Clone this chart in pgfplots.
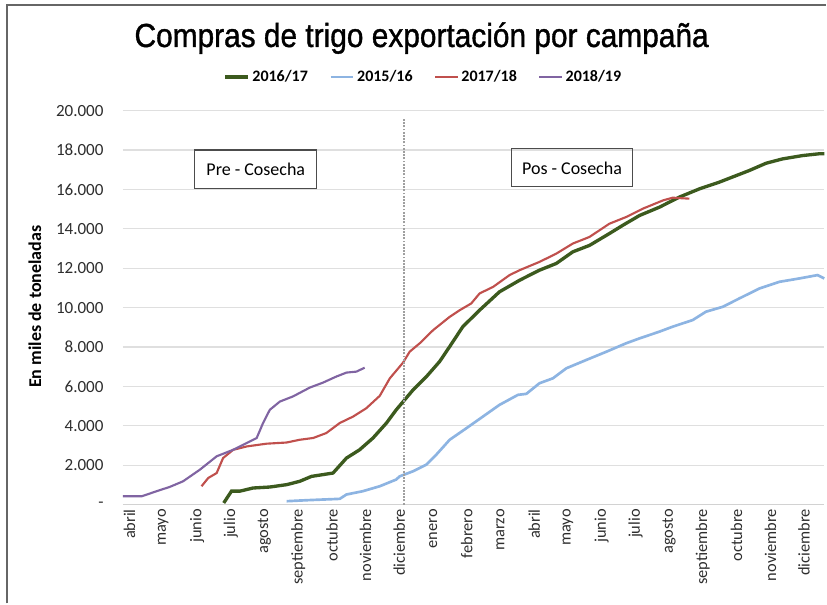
\documentclass[border=0pt]{standalone}
\usepackage{pgfplots}
\pgfplotsset{compat=1.18}
\usepackage{fontspec}
\setmainfont{Carlito}
\newfontfamily\titlefont[FakeBold=1.2]{Liberation Sans}
\definecolor{cgreen}{RGB}{60,90,30}
\definecolor{cblue}{RGB}{141,180,226}
\definecolor{cred}{RGB}{192,80,77}
\definecolor{cpurple}{RGB}{128,100,162}
\definecolor{ctext}{RGB}{45,45,45}
\begin{document}
\begin{tikzpicture}
\begin{axis}[
  at={(92.25pt,74.25pt)}, anchor=south west,
  scale only axis, width=526.5pt, height=295.7pt,
  xmin=-0.119, xmax=20.74, ymin=0, ymax=20000,
  scaled y ticks=false,
  axis x line*=bottom, axis y line*=left,
  x axis line style={draw=gray!35, line width=0.9pt, -},
  y axis line style={draw=none},
  tick style={draw=none},
  ytick={0,2000,...,20000},
  yticklabels={{-\hspace{10pt}},2.000,4.000,6.000,8.000,10.000,12.000,14.000,16.000,18.000,20.000},
  yticklabel style={font=\fontsize{12.8}{13}\selectfont, text=ctext, xshift=-11pt},
  ymajorgrids, grid style={gray!25, line width=0.8pt},
  xtick={-0.12,0.88,1.89,2.89,3.89,4.90,5.90,6.90,7.90,8.91,9.91,10.91,11.92,12.92,13.92,14.93,15.93,16.93,17.93,18.94,19.94},
  xticklabels={abril,mayo,junio,julio,agosto,septiembre,octubre,noviembre,diciembre,enero,febrero,marzo,abril,mayo,junio,julio,agosto,septiembre,octubre,noviembre,diciembre},
  xticklabel style={rotate=90, anchor=east, font=\fontsize{12.3}{12}\selectfont, text=ctext, yshift=-5pt},
  legend columns=4,
  legend style={at={(0.429,1.085)}, anchor=center, draw=none, fill=none,
    font=\bfseries\fontsize{12}{12}\selectfont, text=black,
    /tikz/every even column/.append style={column sep=14pt}},
  legend image code/.code={\draw[#1] (0pt,0pt) -- (17pt,0pt);},
  legend cell align=left,
  clip=false,
]
\addplot[cgreen, line width=2.5pt] coordinates {
(2.88,80) (3.11,680) (3.36,680) (3.75,840) (4.25,890) (4.75,1010) (5.14,1180) (5.49,1430) (5.83,1520) (6.13,1600) (6.53,2360) (6.92,2780) (7.32,3380) (7.72,4140) (8.01,4810) (8.51,5820) (8.91,6500) (9.30,7260) (9.60,8020) (9.99,9030) (10.49,9870) (11.08,10800) (11.68,11390) (12.27,11900) (12.77,12240) (13.26,12830) (13.76,13160) (14.35,13760) (14.75,14180) (15.25,14680) (15.84,15100) (16.43,15610) (17.03,16030) (17.62,16370) (18.51,16960) (19.01,17330) (19.50,17550) (20.10,17720) (20.59,17810) (20.74,17810)};
\addlegendentry{2016/17}
\addplot[cblue, line width=2pt] coordinates {
(4.75,170) (5.34,220) (6.33,290) (6.53,510) (7.02,680) (7.52,930) (8.01,1270) (8.11,1430) (8.51,1690) (8.91,2030) (9.20,2530) (9.60,3290) (10.10,3880) (10.59,4470) (11.08,5060) (11.63,5570) (11.88,5620) (12.27,6160) (12.67,6410) (13.07,6920) (13.66,7340) (14.26,7760) (14.85,8190) (15.25,8440) (15.84,8780) (16.23,9030) (16.83,9370) (17.22,9790) (17.72,10040) (18.22,10470) (18.81,10970) (19.41,11310) (20.0,11480) (20.54,11650) (20.74,11480)};
\addlegendentry{2015/16}
\addplot[cred, line width=1.6pt] coordinates {
(2.22,930) (2.42,1350) (2.67,1600) (2.86,2360) (3.16,2780) (3.56,2950) (4.15,3090) (4.75,3150) (5.14,3290) (5.54,3380) (5.93,3630) (6.33,4140) (6.73,4470) (7.12,4890) (7.52,5520) (7.82,6410) (8.21,7200) (8.41,7760) (8.71,8190) (9.11,8860) (9.60,9530) (9.90,9870) (10.24,10210) (10.49,10720) (10.89,11050) (11.38,11650) (11.68,11900) (12.27,12320) (12.77,12740) (13.26,13250) (13.76,13590) (14.35,14260) (14.85,14600) (15.34,15020) (15.94,15440) (16.23,15580) (16.73,15530)};
\addlegendentry{2017/18}
\addplot[cpurple, line width=1.6pt] coordinates {
(-0.12,420) (0.44,420) (0.88,675) (1.28,900) (1.67,1180) (2.17,1770) (2.67,2450) (3.16,2780) (3.56,3120) (3.86,3380) (4.05,4140) (4.25,4810) (4.55,5230) (4.94,5490) (5.44,5940) (5.83,6190) (6.23,6500) (6.53,6700) (6.83,6750) (7.07,6950)};
\addlegendentry{2018/19}
\addplot[gray!75, densely dotted, line width=1.4pt, forget plot] coordinates {(8.23,0) (8.23,19600)};
\end{axis}
\begin{scope}[x=0.75pt,y=0.75pt]
\path (0,0) rectangle (827,604);
\draw[gray!80!black, line width=1.1pt] (7,0) -- (7,599) -- (827,599);
\node[anchor=base] at (422,557) {\titlefont\fontsize{25}{27}\selectfont\resizebox{431pt}{\height}{Compras de trigo exportación por campaña}};
\node[rotate=90, font=\bfseries\fontsize{13.5}{14}\selectfont] at (35,297) {En miles de toneladas};
\node[draw=gray!60!black, line width=0.9pt, minimum width=91.5pt, minimum height=29pt, font=\fontsize{13.5}{14}\selectfont] at (256,434.5) {Pre - Cosecha};
\node[draw=gray!60!black, line width=0.9pt, minimum width=91pt, minimum height=28.5pt, font=\fontsize{13.5}{14}\selectfont] at (572.5,436) {Pos - Cosecha};
\end{scope}
\end{tikzpicture}
\end{document}
